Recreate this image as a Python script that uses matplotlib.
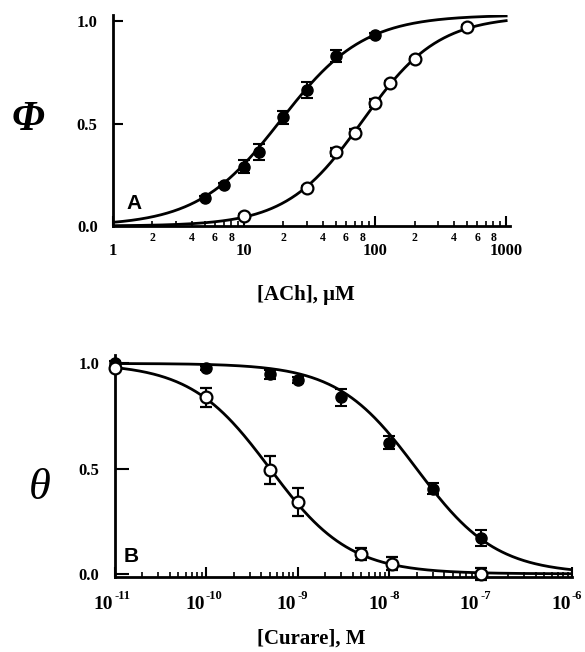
import numpy as np
import matplotlib
matplotlib.use("Agg")
import matplotlib.pyplot as plt
from matplotlib.ticker import LogLocator, FixedLocator, FuncFormatter, NullFormatter
from matplotlib.transforms import blended_transform_factory, offset_copy

SERIF = 'Liberation Serif'

# ---- Panel A data: [ACh] (uM) vs Phi ----
ach_filled_x = [5, 7, 10, 13, 20, 30, 50, 100]
ach_filled_y = [0.136, 0.20, 0.29, 0.36, 0.53, 0.665, 0.83, 0.93]
ach_filled_err = [0.01, 0.01, 0.03, 0.04, 0.03, 0.04, 0.03, 0.01]
ach_open_x = [10, 30, 50, 70, 100, 130, 200, 500]
ach_open_y = [0.05, 0.185, 0.36, 0.455, 0.60, 0.70, 0.815, 0.97]
ach_open_err = [0.01, 0.01, 0.02, 0.02, 0.02, 0.01, 0.01, 0.01]
# Hill fit parameters (EC50, n, max)
fitA_filled = (19.0, 1.37, 1.03)
fitA_open = (80.0, 1.5, 1.025)

# ---- Panel B data: [Curare] (M) vs theta ----
cur_filled_x = [1e-11, 1e-10, 5e-10, 1e-9, 3e-9, 1e-8, 3e-8, 1e-7]
cur_filled_y = [1.0, 0.98, 0.948, 0.92, 0.84, 0.624, 0.405, 0.17]
cur_filled_err = [0.01, 0.01, 0.02, 0.015, 0.04, 0.03, 0.025, 0.04]
cur_open_x = [1e-11, 1e-10, 5e-10, 1e-9, 5e-9, 1.08e-8, 1e-7]
cur_open_y = [0.98, 0.84, 0.495, 0.34, 0.095, 0.048, 0.0]
cur_open_err = [0.01, 0.045, 0.067, 0.067, 0.03, 0.03, 0.03]
# Inhibition fit parameters (IC50, n)
fitB_filled = (2.0e-8, 1.0)
fitB_open = (5.0e-10, 1.0)

W, H = 585, 652
fig = plt.figure(figsize=(W / 100, H / 100), dpi=100)

def frac(l, r, top, bot):
    return [l / W, 1 - bot / H, (r - l) / W, (bot - top) / H]

lw_ax = 2.0
tickfont = dict(family=SERIF, weight='bold')

# ---------------- Panel A ----------------
axA = fig.add_axes(frac(113, 510, 15, 226))
xa = np.logspace(0, np.log10(1000), 400)
for (ec, n, top) in (fitA_filled, fitA_open):
    r = (xa / ec) ** n
    axA.plot(xa, top * r / (1 + r), color='black', lw=2.0, zorder=2)
axA.errorbar(ach_filled_x, ach_filled_y, yerr=ach_filled_err, fmt='o', ms=8,
             mfc='black', mec='black', ecolor='black', elinewidth=1.5, capsize=4,
             capthick=1.5, zorder=3)
axA.errorbar(ach_open_x, ach_open_y, yerr=ach_open_err, fmt='o', ms=8.5,
             mfc='white', mec='black', mew=1.6, ecolor='black', elinewidth=1.5,
             capsize=4, capthick=1.5, zorder=3)
axA.set_xscale('log')
axA.set_xlim(1, 1070)
axA.set_ylim(0, 1.03)
for s in ('top', 'right'):
    axA.spines[s].set_visible(False)
for s in ('left', 'bottom'):
    axA.spines[s].set_linewidth(lw_ax)
axA.set_yticks([0.0, 0.5, 1.0])
axA.set_yticklabels(['0.0', '0.5', '1.0'], fontsize=12, **tickfont)
axA.tick_params(axis='y', direction='in', length=7, width=1.5, pad=11)
axA.xaxis.set_major_locator(FixedLocator([1, 10, 100, 1000]))
axA.set_xticklabels(['1', '10', '100', '1000'], fontsize=12, **tickfont)
axA.xaxis.set_minor_locator(LogLocator(base=10, subs=np.arange(2, 10), numticks=20))

def minor_fmt(v, pos):
    m = v / 10 ** np.floor(np.log10(v) + 1e-9)
    m = int(round(m))
    return str(m) if m in (2, 4, 6, 8) else ''

axA.xaxis.set_minor_formatter(FuncFormatter(minor_fmt))
for lab in axA.xaxis.get_minorticklabels():
    lab.set_fontfamily(SERIF)
    lab.set_fontweight('bold')
    lab.set_fontsize(8.5)
axA.tick_params(axis='x', which='major', direction='in', length=7, width=1.5, pad=12)
axA.tick_params(axis='x', which='minor', direction='in', length=3.5, width=1.2, pad=4,
                labelsize=8.5)
axA.text(0.035, 0.06, 'A', transform=axA.transAxes, fontsize=15, fontweight='bold',
         family='Liberation Sans', ha='left', va='bottom')

# ---------------- Panel B ----------------
axB = fig.add_axes(frac(114.5, 572, 355, 577))
xb = np.logspace(-11, -6, 400)
for (ic, n) in (fitB_filled, fitB_open):
    axB.plot(xb, 1 / (1 + (xb / ic) ** n), color='black', lw=2.0, zorder=2)
axB.errorbar(cur_filled_x, cur_filled_y, yerr=cur_filled_err, fmt='o', ms=8,
             mfc='black', mec='black', ecolor='black', elinewidth=1.5, capsize=4,
             capthick=1.5, zorder=3, clip_on=False)
axB.errorbar(cur_open_x, cur_open_y, yerr=cur_open_err, fmt='o', ms=8.5,
             mfc='white', mec='black', mew=1.6, ecolor='black', elinewidth=1.5,
             capsize=4, capthick=1.5, zorder=3, clip_on=False)
axB.set_xscale('log')
axB.set_xlim(1e-11, 1e-6)
axB.set_ylim(-0.015, 1.04)
for s in ('top', 'right'):
    axB.spines[s].set_visible(False)
for s in ('left', 'bottom'):
    axB.spines[s].set_linewidth(lw_ax)
axB.set_yticks([0.0, 0.5, 1.0])
axB.set_yticklabels(['0.0', '0.5', '1.0'], fontsize=12, **tickfont)
axB.tick_params(axis='y', direction='in', length=10, width=1.5, pad=11)
majB = [1e-11, 1e-10, 1e-9, 1e-8, 1e-7, 1e-6]
axB.xaxis.set_major_locator(FixedLocator(majB))
axB.xaxis.set_major_formatter(NullFormatter())
axB.xaxis.set_minor_locator(LogLocator(base=10, subs=np.arange(2, 10), numticks=20))
axB.xaxis.set_minor_formatter(NullFormatter())
axB.tick_params(axis='x', which='major', direction='in', length=7, width=1.5)
axB.tick_params(axis='x', which='minor', direction='in', length=3.5, width=1.2)
# manual power-of-ten labels: "10" with a small superscript exponent
trB = blended_transform_factory(axB.transData, axB.transAxes)
for v in majB:
    e = int(round(np.log10(v)))
    axB.text(v, 0, '10', transform=offset_copy(trB, fig=fig, x=-1.0, y=-19.5, units='points'),
             ha='right', va='center', fontsize=14, family=SERIF, fontweight='bold',
             clip_on=False)
    axB.text(v, 0, '-%d' % abs(e),
             transform=offset_copy(trB, fig=fig, x=0.0, y=-13.5, units='points'),
             ha='left', va='center', fontsize=9, family=SERIF, fontweight='bold',
             clip_on=False)
axB.text(0.02, 0.05, 'B', transform=axB.transAxes, fontsize=15, fontweight='bold',
         family='Liberation Sans', ha='left', va='bottom')

# ---------------- Labels ----------------
fig.text(28 / W, 1 - 120 / H, 'Φ', fontsize=30, family=SERIF, style='italic',
         fontweight='bold', ha='center', va='center')
fig.text(40 / W, 1 - 488 / H, 'θ', fontsize=32, family=SERIF, style='italic',
         ha='center', va='center')
fig.text(306 / W, 1 - 295 / H, '[ACh], μM', fontsize=15, family=SERIF,
         fontweight='bold', ha='center', va='center')
fig.text(311 / W, 1 - 639 / H, '[Curare], M', fontsize=15, family=SERIF,
         fontweight='bold', ha='center', va='center')

fig.savefig('out.png', dpi=100)
